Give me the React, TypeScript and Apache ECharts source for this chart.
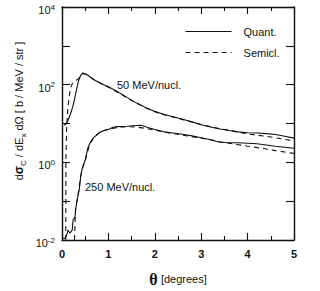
import React, { useEffect, useRef } from "react";
import * as echarts from "echarts";

const FONT = "'Liberation Sans', Arial, Helvetica, sans-serif";
const INK = "#111";

// x axis ticks (degrees)
const xMin = 0;
const xMax = 5;
const xInterval = 1;
// y axis (log) extent
const yMin = 0.01;
const yMax = 10000;

const legendNames = ["Quant.", "Semicl."];
const curveLabels = ["50 MeV/nucl.", "250 MeV/nucl."];

// 50 MeV/nucl., quantal
const theta50Q = [0.05, 0.1, 0.15, 0.2, 0.25, 0.3, 0.35, 0.4, 0.45, 0.5, 0.55, 0.6, 0.7, 0.8, 0.9, 1.0, 1.2, 1.4, 1.6, 1.8, 2.0, 2.2, 2.4, 2.6, 2.8, 3.0, 3.2, 3.4, 3.6, 3.8, 4.0, 4.2, 4.4, 4.6, 4.8, 5.0];
const val50Q = [9, 10, 14, 20, 33, 62, 118, 172, 200, 192, 178, 160, 132, 114, 99, 88, 66, 47, 34, 26, 20.5, 17, 15, 12.8, 11, 9.3, 8.1, 7.2, 6.6, 6.1, 5.8, 5.7, 5.5, 5.2, 4.7, 4.2];

// 50 MeV/nucl., semiclassical
const theta50S = [0.08, 0.085, 0.1, 0.13, 0.16, 0.2, 0.25, 0.3, 0.35, 0.4, 0.45, 0.5, 0.6, 0.7, 0.8, 1.0, 1.2, 1.4, 1.6, 1.8, 2.0, 2.2, 2.4, 2.6, 2.8, 3.0, 3.2, 3.4, 3.6, 3.8, 4.0, 4.2, 4.4, 4.6, 4.8, 5.0];
const val50S = [0.01, 1.2, 8, 28, 55, 95, 118, 128, 140, 165, 192, 190, 158, 131, 113, 86, 64, 46, 33.5, 25.5, 20, 16.8, 14.5, 12.6, 10.9, 9.4, 8.3, 7.4, 6.7, 6.0, 5.4, 5.0, 4.7, 4.3, 3.9, 3.55];

// 250 MeV/nucl., quantal
const theta250Q = [0, 0.05, 0.09, 0.13, 0.17, 0.22, 0.24, 0.28, 0.3, 0.34, 0.37, 0.41, 0.45, 0.5, 0.56, 0.6, 0.67, 0.75, 0.82, 0.9, 1.0, 1.1, 1.2, 1.4, 1.6, 1.7, 1.85, 2.0, 2.2, 2.4, 2.6, 2.8, 3.0, 3.2, 3.4, 3.6, 3.8, 4.0, 4.2, 4.4, 4.6, 4.8, 5.0];
const val250Q = [0.011, 0.011, 0.012, 0.018, 0.015, 0.018, 0.033, 0.039, 0.07, 0.13, 0.19, 0.5, 0.8, 1.15, 2.4, 3.1, 4.2, 5.1, 6.0, 6.5, 7.0, 8.0, 8.3, 8.5, 8.9, 9.0, 7.9, 7.0, 6.1, 5.7, 5.3, 4.8, 4.3, 3.8, 3.3, 3.2, 3.2, 3.1, 3.0, 2.8, 2.6, 2.45, 2.3];

// 250 MeV/nucl., semiclassical
const theta250S = [0.27, 0.29, 0.35, 0.4, 0.45, 0.5, 0.6, 0.7, 0.8, 0.9, 1.0, 1.2, 1.4, 1.6, 1.8, 2.0, 2.2, 2.4, 2.6, 2.8, 3.0, 3.2, 3.4, 3.6, 3.8, 4.0, 4.2, 4.4, 4.6, 4.8, 5.0];
const val250S = [0.01, 0.06, 0.16, 0.42, 0.75, 1.1, 3.0, 4.5, 5.8, 6.6, 7.2, 7.9, 8.3, 8.1, 7.5, 6.8, 6.0, 5.5, 5.0, 4.6, 4.2, 3.8, 3.4, 3.1, 2.85, 2.6, 2.4, 2.2, 2.0, 1.85, 1.7];

const pairs = (xs: number[], ys: number[]) => xs.map((x, i) => [x, ys[i]]);

export default function App() {
  const ref = useRef<HTMLDivElement>(null);

  useEffect(() => {
    document.body.style.margin = "0";
    const chart = echarts.init(ref.current!, null, { renderer: "svg" });

    const xAxisBase = {
      type: "value",
      min: xMin,
      max: xMax,
      interval: xInterval,
      axisLine: { show: true, onZero: false, lineStyle: { color: INK, width: 1.4 } },
      axisTick: { show: true, inside: true, length: 7, lineStyle: { color: INK, width: 1.1 } },
      minorTick: { show: true, splitNumber: 2, length: 4, lineStyle: { color: INK, width: 1.1 } },
      splitLine: { show: false },
      minorSplitLine: { show: false },
    };
    const yAxisBase = {
      type: "log",
      logBase: 10,
      min: yMin,
      max: yMax,
      axisLine: { show: true, onZero: false, lineStyle: { color: INK, width: 1.4 } },
      axisTick: { show: true, inside: true, length: 8, lineStyle: { color: INK, width: 1.1 } },
      splitLine: { show: false },
    };

    const lineSeries = (name: string, data: number[][], dashed: boolean) => ({
      type: "line",
      name,
      data,
      symbol: "none",
      showSymbol: false,
      smooth: false,
      clip: true,
      xAxisIndex: 0,
      yAxisIndex: 0,
      lineStyle: { color: INK, width: 1.1, type: dashed ? [5, 4] : "solid" },
      itemStyle: { color: INK },
      emphasis: { disabled: true },
    });

    chart.setOption({
      animation: false,
      backgroundColor: "#fff",
      grid: { left: 62, right: 26, top: 7, bottom: 51, outerBoundsMode: "none" },
      xAxis: [
        {
          ...xAxisBase,
          position: "bottom",
          axisLabel: { show: true, fontSize: 11, fontWeight: "bold", color: INK, margin: 8, fontFamily: FONT },
          name: "{t|θ} {d|[degrees]}",
          nameLocation: "middle",
          nameGap: 31,
          nameTextStyle: {
            color: INK,
            rich: {
              t: { fontSize: 16, fontWeight: "bold", fontFamily: "'Liberation Serif', 'DejaVu Serif', serif", color: INK },
              d: { fontSize: 11, fontFamily: FONT, color: INK },
            },
          },
        },
        { ...xAxisBase, position: "top", axisLabel: { show: false } },
      ],
      yAxis: [
        {
          ...yAxisBase,
          position: "left",
          axisLabel: {
            show: true,
            margin: 7,
            color: INK,
            formatter: (v: number) => {
              const e = Math.round(Math.log10(v));
              if (e % 2 !== 0) return "";
              return `{b|10}{s|${e}}`;
            },
            rich: {
              b: { fontSize: 11, fontFamily: FONT, color: INK, lineHeight: 12, padding: [6, 0, 0, 0] },
              s: { fontSize: 8, fontFamily: FONT, color: INK, lineHeight: 8, verticalAlign: "top", padding: [2, 0, 0, 0] },
            },
          },
        },
        { ...yAxisBase, position: "right", axisLabel: { show: false } },
      ],
      legend: {
        data: legendNames,
        orient: "vertical",
        left: 180,
        top: 21,
        itemWidth: 46,
        itemHeight: 10,
        itemGap: 10,
        selectedMode: false,
        itemStyle: { opacity: 0, borderWidth: 0 },
        lineStyle: { color: INK, width: 1.1 },
        textStyle: { fontSize: 11, color: INK, fontFamily: FONT, padding: [0, 0, 0, 7] },
      },
      series: [
        lineSeries(legendNames[0], pairs(theta50Q, val50Q), false),
        lineSeries(legendNames[1], pairs(theta50S, val50S), true),
        lineSeries(legendNames[0], pairs(theta250Q, val250Q), false),
        lineSeries(legendNames[1], pairs(theta250S, val250S), true),
      ],
      graphic: [
        {
          type: "text",
          left: 117,
          top: 79,
          style: { text: curveLabels[0], fontSize: 11, fontFamily: FONT, fill: INK },
        },
        {
          type: "text",
          left: 85,
          top: 181,
          style: { text: curveLabels[1], fontSize: 11, fontFamily: FONT, fill: INK },
        },
        {
          type: "text",
          x: 19,
          y: 111,
          rotation: Math.PI / 2,
          style: {
            text: "d{sig|σ}{sub|C} / dE{sub|x} dΩ [ b / MeV / str ]",
            fontSize: 11,
            fontFamily: FONT,
            fill: INK,
            lineHeight: 16,
            align: "center",
            textAlign: "center",
            verticalAlign: "middle",
            textVerticalAlign: "middle",
            rich: {
              sig: { fontSize: 12, fontWeight: "bold", fontFamily: FONT, fill: INK, lineHeight: 16 },
              sub: { fontSize: 8, fontFamily: FONT, fill: INK, lineHeight: 8, verticalAlign: "bottom" },
            },
          },
        },
      ],
    });

    return () => chart.dispose();
  }, []);

  return (
    <div
      ref={ref}
      style={{ position: "fixed", left: 0, top: 0, width: 320, height: 291, background: "#fff" }}
    />
  );
}
